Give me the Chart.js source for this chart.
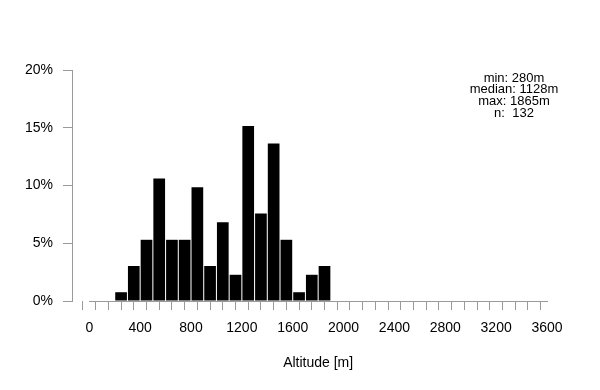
<!DOCTYPE html>
<html>
<head>
<meta charset="utf-8">
<script src="https://cdn.jsdelivr.net/npm/chart.js@4"></script>
<style>
  body { margin: 0; background: #fff; }
  canvas { display: block; }
</style>
</head>
<body>
<canvas id="grafico" width="600" height="390"></canvas>
<script>
// histogram bins (center of each 100 m bin) and share of sites in %
const binCenters = [250, 350, 450, 550, 650, 750, 850, 950, 1050, 1150, 1250, 1350, 1450, 1550, 1650, 1750, 1850];
const percents = [0.76, 3.03, 5.3, 10.61, 5.3, 5.3, 9.85, 3.03, 6.82, 2.27, 15.15, 7.58, 13.64, 5.3, 0.76, 2.27, 3.03];

const xTicks = [0, 100, 200, 300, 400, 500, 600, 700, 800, 900, 1000, 1100, 1200, 1300, 1400, 1500, 1600, 1700, 1800,
  1900, 2000, 2100, 2200, 2300, 2400, 2500, 2600, 2700, 2800, 2900, 3000, 3100, 3200, 3300, 3400, 3500, 3600];
const xLabels = [0, 400, 800, 1200, 1600, 2000, 2400, 2800, 3200, 3600];
const yTicks = [0, 5, 10, 15, 20];

const stats = ["min: 280m", "median: 1128m", "max: 1865m", "n:  132"];
const xTitle = "Altitude [m]";

const fuente = "Liberation Sans, Arial, sans-serif";
const gris = "#9a9a9a";

// draws the x axis line (only 0..3600), the axis title and the stats box
const extras = {
  id: "extras",
  afterDraw(chart) {
    const ctx = chart.ctx;
    const x = chart.scales.x;
    const area = chart.chartArea;
    ctx.save();
    ctx.strokeStyle = gris;
    ctx.lineWidth = 1;
    ctx.beginPath();
    ctx.moveTo(Math.round(x.getPixelForValue(0)), area.bottom + 0.5);
    ctx.lineTo(Math.round(x.getPixelForValue(3600)) + 1, area.bottom + 0.5);
    ctx.stroke();

    ctx.fillStyle = "#000";
    ctx.font = "14px " + fuente;
    ctx.textAlign = "center";
    ctx.textBaseline = "middle";
    ctx.fillText(xTitle, (x.getPixelForValue(0) + x.getPixelForValue(3600)) / 2, 363);

    ctx.font = "13px " + fuente;
    stats.forEach((t, i) => ctx.fillText(t, 514, 78 + i * 11.7));
    ctx.restore();
  }
};

new Chart(document.getElementById("grafico").getContext("2d"), {
  type: "bar",
  data: {
    datasets: [{
      data: binCenters.map((c, i) => ({ x: c, y: percents[i] })),
      backgroundColor: "#000",
      borderWidth: 0,
      barPercentage: 0.92,
      categoryPercentage: 1
    }]
  },
  options: {
    responsive: false,
    animation: false,
    layout: { padding: { top: 70, right: 53, left: 0, bottom: 0 } },
    plugins: { legend: { display: false }, tooltip: { enabled: false } },
    scales: {
      x: {
        type: "linear",
        min: -136,
        max: 3600,
        offset: false,
        afterBuildTicks: s => { s.ticks = xTicks.map(v => ({ value: v })); },
        afterFit: s => { s.height = 89; },
        border: { display: false },
        grid: { display: true, drawOnChartArea: false, drawTicks: true, tickLength: 9, color: gris },
        ticks: {
          autoSkip: false,
          maxRotation: 0,
          padding: 10,
          color: "#000",
          font: { family: fuente, size: 14 },
          callback: v => (xLabels.includes(v) ? String(v) : "")
        }
      },
      y: {
        min: 0,
        max: 20,
        afterBuildTicks: s => { s.ticks = yTicks.map(v => ({ value: v })); },
        afterFit: s => { s.width = 72; },
        border: { display: true, color: gris },
        grid: { display: true, drawOnChartArea: false, drawTicks: true, tickLength: 9, color: gris },
        ticks: {
          padding: 10,
          color: "#000",
          font: { family: fuente, size: 14 },
          callback: v => v + "%"
        }
      }
    }
  },
  plugins: [extras]
});
</script>
</body>
</html>
